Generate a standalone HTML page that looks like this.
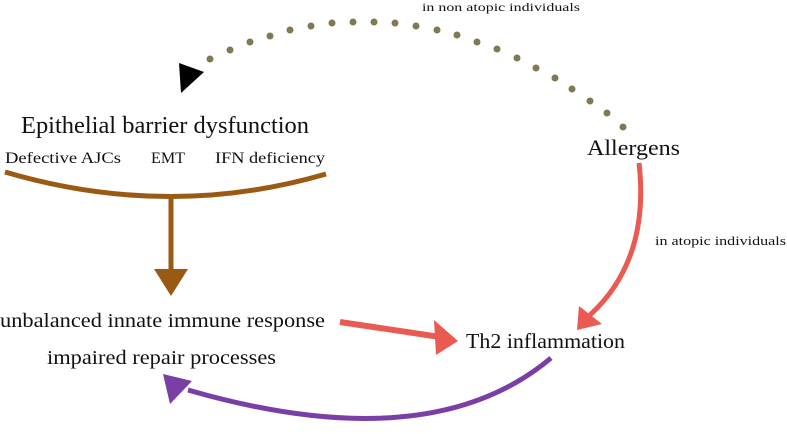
<!DOCTYPE html>
<html><head><meta charset="utf-8"><style>
html,body{margin:0;padding:0;background:#fff;}
svg{display:block;}
text{font-family:"Liberation Serif",serif;fill:#111;}
</style></head><body>
<svg width="787" height="434" viewBox="0 0 787 434" xmlns="http://www.w3.org/2000/svg">
<text x="422" y="11" font-size="12" textLength="158" lengthAdjust="spacingAndGlyphs">in non atopic individuals</text>
<g fill="#7f7a52">
<circle cx="210" cy="59" r="3.5"/><circle cx="230" cy="50" r="3.5"/><circle cx="250" cy="42" r="3.5"/><circle cx="270" cy="36" r="3.5"/><circle cx="290" cy="30" r="3.5"/><circle cx="311" cy="26" r="3.5"/><circle cx="332" cy="23" r="3.5"/><circle cx="353" cy="22" r="3.5"/><circle cx="374" cy="22" r="3.5"/><circle cx="395" cy="23" r="3.5"/><circle cx="416" cy="26" r="3.5"/><circle cx="437" cy="30" r="3.5"/><circle cx="457" cy="35" r="3.5"/><circle cx="477" cy="42" r="3.5"/><circle cx="497" cy="49" r="3.5"/><circle cx="517" cy="58" r="3.5"/><circle cx="536" cy="68" r="3.5"/><circle cx="555" cy="78" r="3.5"/><circle cx="572" cy="89" r="3.5"/><circle cx="590" cy="101" r="3.5"/><circle cx="607" cy="113" r="3.5"/><circle cx="623" cy="127" r="3.5"/>
</g>
<polygon points="179,63 204,72 181,93" fill="#000"/>
<text x="21" y="133" font-size="24" textLength="288" lengthAdjust="spacingAndGlyphs">Epithelial barrier dysfunction</text>
<text x="5" y="163" font-size="16" textLength="116" lengthAdjust="spacingAndGlyphs">Defective AJCs</text>
<text x="151" y="163" font-size="16" textLength="34" lengthAdjust="spacingAndGlyphs">EMT</text>
<text x="215" y="163" font-size="16" textLength="110" lengthAdjust="spacingAndGlyphs">IFN deficiency</text>
<path d="M5,172 Q168,220 326,174" stroke="#9a5a14" stroke-width="5" fill="none"/>
<path d="M171,196 L171,272" stroke="#9a5a14" stroke-width="5" fill="none"/>
<polygon points="154,269 188,269 171,296" fill="#9a5a14"/>
<text x="0" y="327" font-size="20" textLength="325" lengthAdjust="spacingAndGlyphs">unbalanced innate immune response</text>
<text x="47" y="364" font-size="20" textLength="229" lengthAdjust="spacingAndGlyphs">impaired repair processes</text>
<path d="M340,322 L440,337" stroke="#ea5a50" stroke-width="6" fill="none"/>
<polygon points="434,320 458,341 436,355" fill="#ea5a50"/>
<text x="466" y="348" font-size="21" textLength="159" lengthAdjust="spacingAndGlyphs">Th2 inflammation</text>
<text x="587" y="155" font-size="22" textLength="93" lengthAdjust="spacingAndGlyphs">Allergens</text>
<path d="M639,163 Q650,260 590,315" stroke="#ea5a50" stroke-width="5" fill="none"/>
<polygon points="579,306 602,324 577,330" fill="#ea5a50"/>
<text x="655" y="245" font-size="13" textLength="131" lengthAdjust="spacingAndGlyphs">in atopic individuals</text>
<path d="M551,358 Q430,460 188,390" stroke="#7a3fa6" stroke-width="5" fill="none"/>
<polygon points="163,374 192,381 170,404" fill="#7a3fa6"/>
</svg>
</body></html>
